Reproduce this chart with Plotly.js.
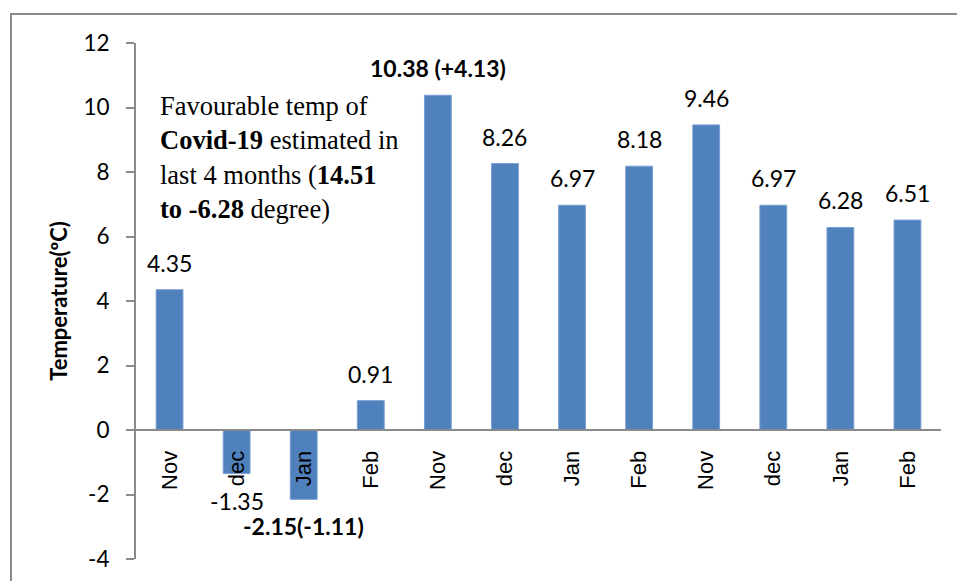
<!DOCTYPE html>
<html>
<head>
<meta charset="utf-8">
<script src="https://cdn.plot.ly/plotly-3.0.1.min.js"></script>
<style>
  html, body { margin: 0; padding: 0; background: #ffffff; overflow: hidden; }
  #chart { width: 957px; height: 581px; position: absolute; left: 0; top: 0; }
  #frame { position: absolute; left: 10px; top: 13px; width: 2000px; height: 2000px;
           border-left: 2px solid #8a8a8a; border-top: 2px solid #8a8a8a; pointer-events: none; }
</style>
</head>
<body>
<div id="chart"></div>
<div id="frame"></div>
<script>
// ---- data ----
const months = ["Nov", "dec", "Jan", "Feb", "Nov", "dec", "Jan", "Feb", "Nov", "dec", "Jan", "Feb"];
const temps  = [4.35, -1.35, -2.15, 0.91, 10.38, 8.26, 6.97, 8.18, 9.46, 6.97, 6.28, 6.51];
const labels = ["4.35", "-1.35", "<b>-2.15(-1.11)</b>", "0.91", "<b>10.38 (+4.13)</b>",
                "8.26", "6.97", "8.18", "9.46", "6.97", "6.28", "6.51"];
const yTicks = [-4, -2, 0, 2, 4, 6, 8, 10, 12];
const yTickText = ["-4", "-2", "0", "2", "4", "6", "8", "10", "12"];
const noteLines = ["Favourable temp of",
                   "<b>Covid-19</b> estimated in",
                   "last 4 months (<b>14.51</b>",
                   "<b>to -6.28</b> degree)"];

const idx = months.map((_, i) => i);
const yMin = -4, yMax = 12;

const trace = {
  type: "bar",
  x: idx,
  y: temps,
  width: 0.4,
  marker: { color: "#4F81BD", line: { color: "#7A9FD1", width: 1 } },
  hoverinfo: "skip",
  showlegend: false
};

const valueNotes = temps.map((v, i) => ({
  x: idx[i], y: v, xref: "x", yref: "y",
  text: labels[i], showarrow: false,
  xanchor: "center", yanchor: v >= 0 ? "bottom" : "top",
  yshift: v >= 0 ? 11 : -11,
  font: { family: "Lato, Carlito, sans-serif", size: 23, color: "#000000" }
}));

const textNote = {
  xref: "paper", yref: "paper", x: 0.027, y: 0.91,
  xanchor: "left", yanchor: "top", align: "left", showarrow: false,
  text: noteLines.join("<br>"),
  font: { family: "Liberation Serif, Times New Roman, serif", size: 26.5, color: "#000000" }
};

const layout = {
  width: 957, height: 581,
  margin: { l: 136, r: 16, t: 43, b: 22, pad: 0 },
  paper_bgcolor: "#ffffff", plot_bgcolor: "#ffffff",
  showlegend: false,
  xaxis: {
    range: [-0.5, months.length - 0.5],
    tickmode: "array", tickvals: idx, ticktext: months,
    tickangle: -90,
    ticks: "outside", ticklen: 11, tickcolor: "rgba(0,0,0,0)",
    tickfont: { family: "Liberation Sans, Arial, sans-serif", size: 22, color: "#000000" },
    showline: true, linecolor: "#8a8a8a", linewidth: 2,
    showgrid: false, zeroline: false,
    anchor: "free", position: (0 - yMin) / (yMax - yMin),
    fixedrange: true
  },
  yaxis: {
    range: [yMin, yMax],
    tickmode: "array", tickvals: yTicks, ticktext: yTickText,
    ticks: "outside", ticklen: 8, tickcolor: "#8a8a8a", tickwidth: 2,
    ticklabelstandoff: 12,
    tickfont: { family: "Lato, Carlito, sans-serif", size: 22.5, color: "#000000" },
    showline: true, linecolor: "#8a8a8a", linewidth: 2,
    showgrid: false, zeroline: false,
    title: { text: "<b>Temperature(ºC)</b>", standoff: 10,
             font: { family: "Lato, Carlito, sans-serif", size: 22, color: "#000000" } },
    fixedrange: true
  },
  annotations: valueNotes.concat([textNote])
};

Plotly.newPlot("chart", [trace], layout, { displayModeBar: false, staticPlot: true });
</script>
</body>
</html>
